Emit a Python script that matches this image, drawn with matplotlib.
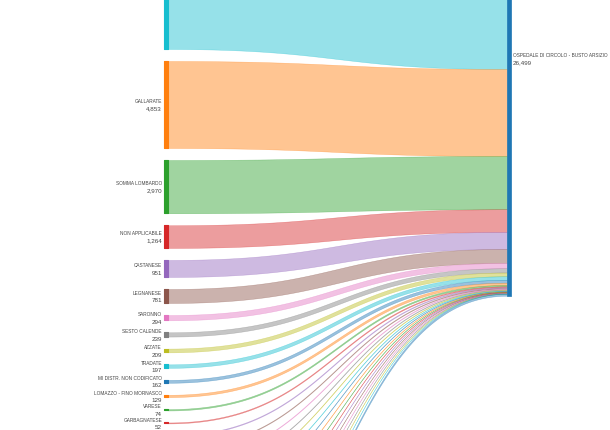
import numpy as np
import matplotlib
matplotlib.use("Agg")
import matplotlib.pyplot as plt

# source districts (left column), top to bottom
sources = ["BUSTO ARSIZIO", "GALLARATE", "SOMMA LOMBARDO", "NON APPLICABILE",
           "CASTANESE", "LEGNANESE", "SARONNO", "SESTO CALENDE", "AZZATE",
           "TRADATE", "MI DISTR. NON CODIFICATO", "LOMAZZO - FINO MORNASCO",
           "VARESE", "GARBAGNATESE", "SEREGNO", "MAGENTA", "ABBIATEGRASSO",
           "RHO", "ARCISATE", "LUINO", "CITTIGLIO", "OLGIATE COMASCO", "COMO",
           "CANTU'", "DESIO", "MONZA", "MILANO", "CORSICO", "NOVARA",
           "ESTERO", "FUORI REGIONE"]
values = [13853, 4853, 2970, 1264, 951, 781, 294, 239, 209, 197, 162, 129,
          74, 52, 45, 40, 36, 33, 30, 27, 24, 22, 20, 18, 16, 14, 12, 10,
          8, 6, 110]
target = "OSPEDALE DI CIRCOLO - BUSTO ARSIZIO"

palette = ["#1f77b4", "#ff7f0e", "#2ca02c", "#d62728", "#9467bd",
           "#8c564b", "#e377c2", "#7f7f7f", "#bcbd22", "#17becf"]

total = sum(values)
pad = 670            # gap between nodes, in patients
right_shift = 1116   # right node offset vs left column
px = 87 / 4853       # pixels per patient in the cropped view

fig = plt.figure(figsize=(6.10, 4.31), dpi=100)
ax = fig.add_axes([0, 0, 1, 1])
ax.set_xlim(0, 610)
ax.axis("off")

xl, xr, nw = 164, 507, 4

tops = list(np.cumsum([0] + [v + pad for v in values[:-1]]))
# crop: GALLARATE's node top sits 62 px below the top edge
y_top = tops[1] - 62 / px
y_bot = y_top + 431 / px

def band(x0, x1, y0a, y0b, y1a, y1b, color):
    t = np.linspace(0, 1, 100)
    xm = (x0 + x1) / 2
    b0, b1, b2, b3 = (1-t)**3, 3*(1-t)**2*t, 3*(1-t)*t**2, t**3
    xs = b0*x0 + (b1+b2)*xm + b3*x1
    ya = (b0+b1)*y0a + (b2+b3)*y1a
    yb = (b0+b1)*y0b + (b2+b3)*y1b
    ax.fill_between(xs, ya, yb, color=color, alpha=0.45, lw=0.35,
                    edgecolor=color)

yr = right_shift
for i, (name, v) in enumerate(zip(sources, values)):
    c = palette[9] if i == 0 else palette[i % 10]
    y = tops[i]
    band(xl + nw, xr, y, y + v, yr, yr + v, c)
    ax.fill_between([xl, xl + nw], y, y + v, color=c, lw=0.8, edgecolor=c)
    mid = y + v / 2
    if y_top < mid < y_bot + 5 / px:
        ax.text(xl - 2, mid - 3.8 / px, name, ha="right", va="center",
                fontsize=3.4, color="#444444", family="Liberation Sans")
        if mid + 3.6 / px < y_bot:
            ax.text(xl - 2, mid + 3.6 / px, f"{v:,}", ha="right",
                    va="center", fontsize=4.5, color="#444444",
                    family="Liberation Sans")
    yr += v

ax.fill_between([xr, xr + nw], right_shift, right_shift + total,
                color=palette[0], lw=0.5, edgecolor=palette[0])
rmid = right_shift + total / 2
ax.text(xr + 6, rmid - 3.6 / px, target, ha="left", va="center",
        fontsize=3.4, color="#444444", family="Liberation Sans")
ax.text(xr + 6, rmid + 3.6 / px, f"{total:,}", ha="left", va="center",
        fontsize=4.5, color="#444444", family="Liberation Sans")

ax.set_ylim(y_bot, y_top)

fig.savefig("out.png", dpi=100)
